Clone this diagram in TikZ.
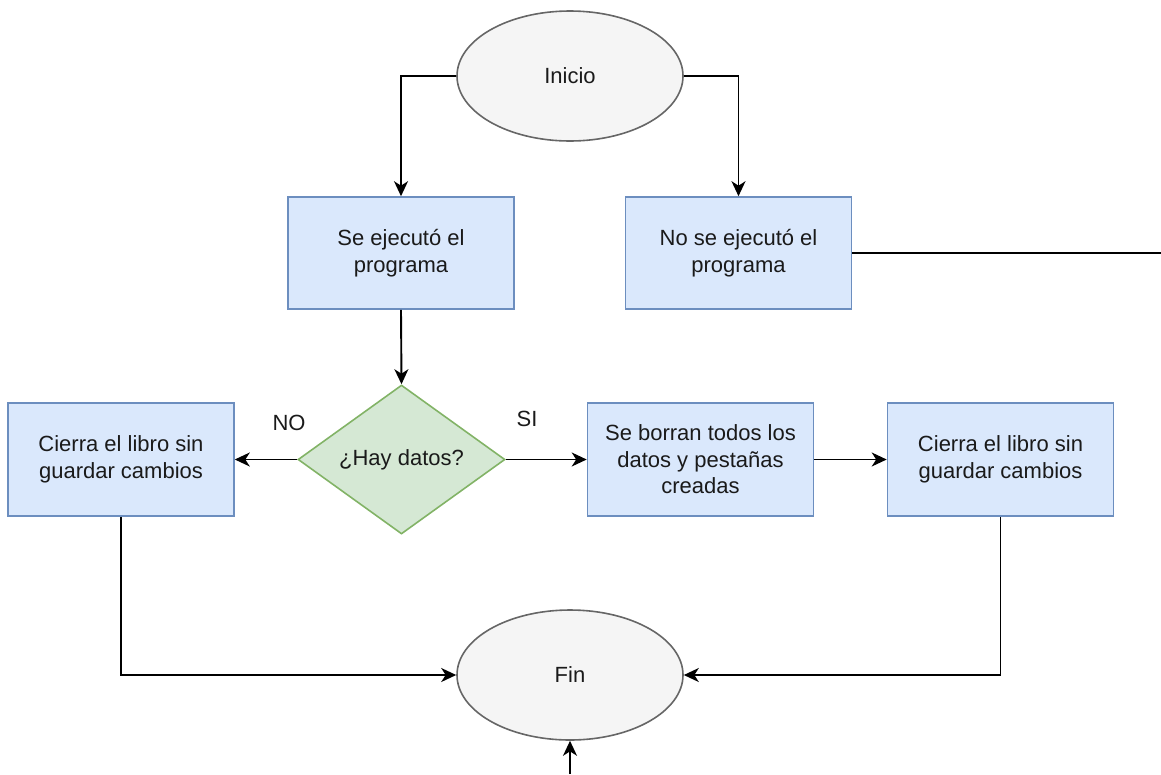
\documentclass[tikz,border=0pt]{standalone}
\usepackage{fontspec}
\setmainfont{Liberation Sans}
\usetikzlibrary{shapes.geometric,arrows.meta}
\definecolor{procfill}{HTML}{DAE8FC}
\definecolor{procline}{HTML}{6C8EBF}
\definecolor{decfill}{HTML}{D5E8D4}
\definecolor{decline}{HTML}{82B366}
\definecolor{termfill}{HTML}{F5F5F5}
\definecolor{termline}{HTML}{666666}
\definecolor{txt}{HTML}{1A1A1A}
\begin{document}
\begin{tikzpicture}[x=1pt,y=-1pt,
  every node/.style={font=\fontsize{22}{26.5}\selectfont, text=txt, align=center},
  procbox/.style={draw=procline, fill=procfill, line width=1.6pt, minimum width=226pt, minimum height=112pt, inner sep=0pt},
  termnode/.style={ellipse, draw=termline, fill=termfill, line width=1.6pt, minimum width=226pt, minimum height=130pt, inner sep=0pt},
  decnode/.style={diamond, draw=decline, fill=decfill, line width=1.6pt, minimum width=207pt, minimum height=149pt, inner sep=0pt},
  arr/.style={draw=black, line width=1.9pt, -{Stealth[length=15pt,width=14pt,inset=4.5pt]}},
  plain/.style={draw=black, line width=1.9pt}
]
\useasboundingbox (0,0) rectangle (1161,774);

% terminals
\node[termnode] (inicio) at (570,76) {Inicio};
\node[termnode] (fin) at (570,675) {Fin};

% first level
\node[procbox] (ejec) at (401,253) {Se ejecutó el\\programa};
\node[procbox] (noejec) at (738.5,253) {No se ejecutó el\\programa};

% decision and branches
\node[decnode] (datos) at (401.5,459.5) {¿Hay datos?};
\node[procbox, minimum height=113pt] (cierraA) at (121,459.5) {Cierra el libro sin\\guardar cambios};
\node[procbox, minimum height=113pt] (borra) at (700.5,459.5) {Se borran todos los\\datos y pestañas\\creadas};
\node[procbox, minimum height=113pt] (cierraB) at (1000.5,459.5) {Cierra el libro sin\\guardar cambios};

\node (lblno) at (289,423) {NO};
\node (lblsi) at (527,419) {SI};

% loose ends at the picture border
\coordinate (edgeR) at (1161,253);
\coordinate (edgeB) at (570,774);

% connectors
\draw[arr] (inicio.west) -| (ejec.north);
\draw[arr] (inicio.east) -| (noejec.north);
\draw[plain] (noejec.east) -- (edgeR);
\draw[arr] (ejec.south) -- (datos.north);
\draw[arr] (datos.west) -- (cierraA.east);
\draw[arr] (datos.east) -- (borra.west);
\draw[arr] (borra.east) -- (cierraB.west);
\draw[arr] (cierraA.south) |- (fin.west);
\draw[arr] (cierraB.south) |- (fin.east);
\draw[arr] (edgeB) -- (fin.south);
\end{tikzpicture}
\end{document}
